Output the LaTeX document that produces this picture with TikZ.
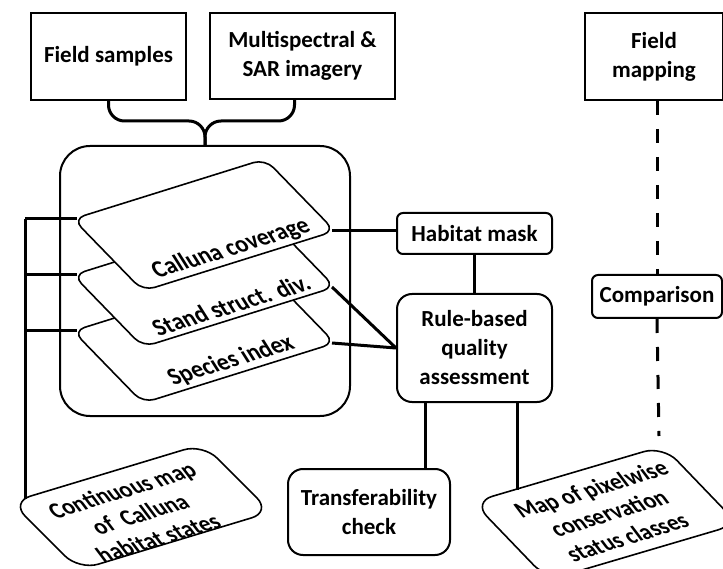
\documentclass[tikz,border=0pt]{standalone}
\usepackage{fontspec}
\setmainfont{Carlito}
\newcommand{\boxfont}{\fontsize{23}{29}\selectfont\bfseries}
\newcommand{\sheetfont}{\fontsize{22}{26}\selectfont\bfseries}
\tikzset{
  box/.style={draw, line width=2pt, font=\boxfont, align=center, inner sep=0pt},
  roundbox/.style={box, rounded corners=15pt},
  smallbox/.style={box, rounded corners=6pt},
  conn/.style={line width=3pt},
  dashline/.style={conn, dash pattern=on 14pt off 14pt},
  layer/.style={draw, fill=white, line width=1.6pt, rounded corners=12pt},
  sheet/.style={draw, fill=white, line width=1.6pt, rounded corners=20pt},
  slanted/.style={font=\boxfont, align=center, inner sep=0pt, cm={0.956,0.294,-0.6,0.95,(0,0)}},
  sheettext/.style={slanted, font=\sheetfont, cm={1,0,-0.1,1,(0,0)}}
}
\begin{document}
\begin{tikzpicture}[x=1pt, y=-1pt]
\useasboundingbox (0,0) rectangle (723,569);

% inputs
\node[box, minimum width=155, minimum height=87] (samples) at (108.5,56.5) {Field samples};
\node[box, minimum width=185, minimum height=86] (imagery) at (302.5,56) {Multispectral \&\\SAR imagery};
\node[box, minimum width=138, minimum height=87] (fieldmap) at (654,56.5) {Field\\mapping};

% stack of layers
\node[draw, line width=2pt, rounded corners=30pt, minimum width=290, minimum height=270] (stack) at (205,281) {};
\coordinate (fork-top) at (stack.north |- 0,121);
\draw[conn, rounded corners=16pt] (samples.south) |- (fork-top) -- (stack.north);
\draw[conn, rounded corners=16pt] ([xshift=-8pt]imagery.south) |- (fork-top) -- (stack.north);

\foreach \n/\y/\t in {spec/331/Species index, stand/275/Stand struct. div., cov/219/Calluna coverage}{
  \draw[layer] (73,\y) -- ++(192,-60) -- ++(70,72) -- ++(-192,60) -- cycle;
  \coordinate (\n-w) at (77,\y);
  \coordinate (\n-e) at (332,\y+12);
  \node[slanted] (\n) at (231,\y+30) {\t};
}

% outputs
\draw[sheet] (11,502) -- ++(192,-58) -- ++(68,68) -- ++(-192,58) -- cycle;
\node[sheettext] (cmap) at (140,514) {Continuous map\\of~~Calluna\\habitat states};
\draw[sheet] (473,502) -- ++(190,-56) -- ++(75,78) -- ++(-190,56) -- cycle;
\node[sheettext] (pixmap) at (609,513) {Map of pixelwise\\conservation\\status classes};

\node[smallbox, minimum width=155, minimum height=41] (mask) at (474.5,233.5) {Habitat mask};
\node[roundbox, minimum width=155, minimum height=108] (rule) at (474.5,348) {Rule-based\\quality\\assessment};
\node[smallbox, minimum width=130, minimum height=43] (comp) at (657,296.5) {Comparison};
\node[roundbox, minimum width=162, minimum height=86] (trans) at (369,512) {Transferability\\check};

\coordinate (spine-top) at (25,219);
\coordinate (cmap-hit) at (25,499);
\coordinate (trans-in) at (425,469);
\coordinate (pix-hit) at (517,490);
\coordinate (pix-top) at (659,436);

% connectors
\draw[conn] (spine-top) -- (cmap-hit);
\foreach \n in {cov,stand,spec}
  \draw[conn] (\n-w -| spine-top) -- (\n-w);
\draw[conn] (cov-e) -- (cov-e -| mask.west);
\draw[conn] (stand-e) -- (rule.west);
\draw[conn] (spec-e) -- (rule.west);
\draw[conn] (mask) -- (rule);
\draw[conn] (trans-in |- rule.south) -- (trans-in);
\draw[conn] (pix-hit |- rule.south) -- (pix-hit);
\draw[dashline] (comp.north |- fieldmap.south) -- (comp.north);
\draw[dashline] (comp.south) -- (pix-top);
\end{tikzpicture}
\end{document}
